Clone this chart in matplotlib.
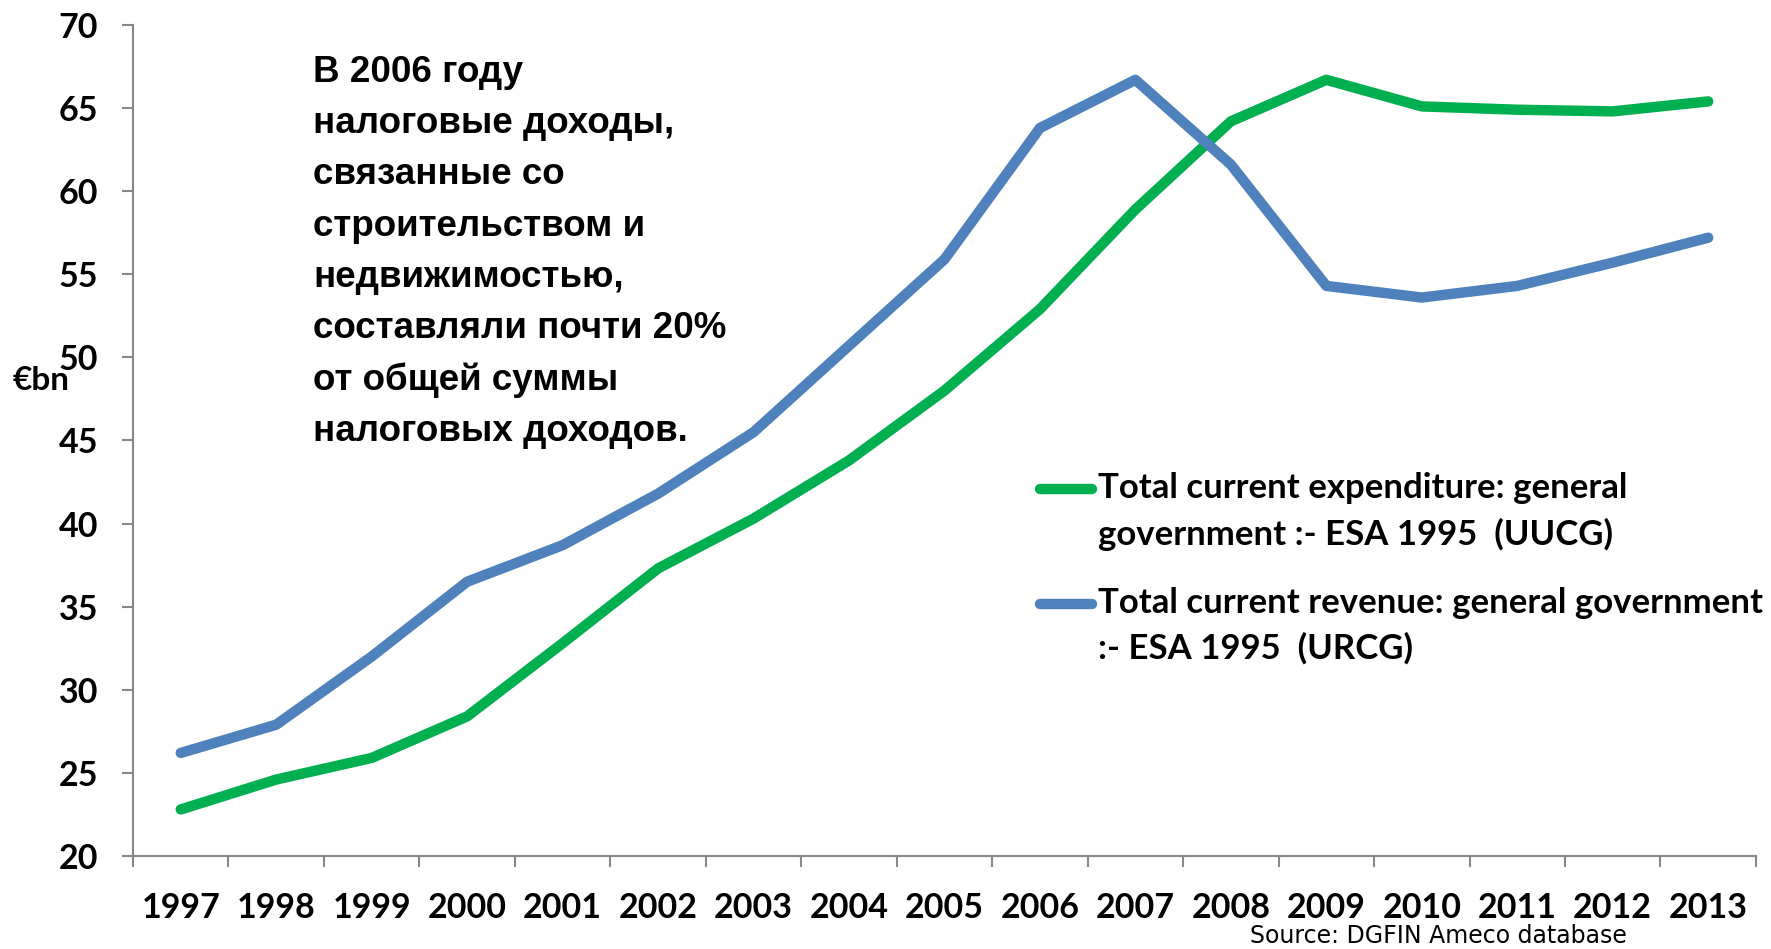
import numpy as np
import matplotlib
matplotlib.use("Agg")
import matplotlib.pyplot as plt
from matplotlib.ticker import FixedLocator, NullFormatter

# Ameco values, € bn
years = [str(y) for y in range(1997, 2014)]
expenditure = [22.8, 24.6, 25.9, 28.4, 32.8, 37.3, 40.3, 43.8, 48.0, 52.9,
               58.9, 64.2, 66.7, 65.1, 64.9, 64.8, 65.4]
revenue = [26.2, 27.9, 32.0, 36.5, 38.7, 41.8, 45.5, 50.7, 55.9, 63.8,
           66.7, 61.6, 54.3, 53.6, 54.3, 55.7, 57.2]
y_ticks = list(range(20, 71, 5))

label_exp = "Total current expenditure: general\ngovernment :- ESA 1995  (UUCG)"
label_rev = "Total current revenue: general government\n:- ESA 1995  (URCG)"
note = ("В 2006 году\nналоговые доходы,\nсвязанные со\nстроительством и\n"
        "недвижимостью,\nсоставляли почти 20%\nот общей суммы\nналоговых доходов.")

GREEN = "#00B050"
BLUE = "#4F81BD"
AXIS = "#888888"

fig = plt.figure(figsize=(17.71, 9.49), dpi=100)
ax = fig.add_axes([0.0751, 0.098, 0.9164, 0.8757])

x = np.arange(len(years)) + 0.5
ax.plot(x, expenditure, color=GREEN, lw=7.5, solid_capstyle="round", solid_joinstyle="round")
ax.plot(x, revenue, color=BLUE, lw=7.5, solid_capstyle="round", solid_joinstyle="round")

ax.set_xlim(0, len(years))
ax.set_ylim(20, 70)

for s in ["top", "right"]:
    ax.spines[s].set_visible(False)
for s in ["left", "bottom"]:
    ax.spines[s].set_color(AXIS)
    ax.spines[s].set_linewidth(1.5)

ax.set_yticks(y_ticks)
ax.set_yticklabels([str(v) for v in y_ticks])
ax.tick_params(axis="y", length=8, width=1.5, color=AXIS, pad=17)
ax.xaxis.set_major_locator(FixedLocator(np.arange(len(years) + 1)))
ax.xaxis.set_major_formatter(NullFormatter())
ax.xaxis.set_minor_locator(FixedLocator(x))
ax.set_xticklabels(years, minor=True)
ax.tick_params(axis="x", which="major", length=8, width=1.5, color=AXIS, direction="out")
ax.tick_params(axis="x", which="minor", length=0, pad=26)

for lab in ax.get_yticklabels() + ax.get_xticklabels(minor=True):
    lab.set_fontfamily("Lato")
    lab.set_fontweight("bold")
    lab.set_fontsize(24.5)

fig.text(13 / 1771, 1 - 381 / 949, "€bn", family="Lato", weight="bold",
         fontsize=24, va="center", ha="left")

fig.text(313 / 1771, 1 - 55 / 949, note, family="Liberation Sans", weight="bold",
         fontsize=26.5, va="top", ha="left", linespacing=1.6)

# legend drawn by hand
for (yc, col, lab) in [(489, GREEN, label_exp), (604, BLUE, label_rev)]:
    fig.add_artist(plt.Line2D([1040 / 1771, 1092 / 1771], [1 - yc / 949] * 2,
                              color=col, lw=7.5, solid_capstyle="round"))
    fig.text(1098 / 1771, 1 - (yc - 17) / 949, lab, family="Lato", weight="bold",
             fontsize=25, va="top", ha="left", linespacing=1.5)

fig.text(1627 / 1771, 1 - 936 / 949, "Source: DGFIN Ameco database", family="DejaVu Sans",
         fontsize=17, va="center", ha="right")

plt.savefig("out.png", dpi=100)
